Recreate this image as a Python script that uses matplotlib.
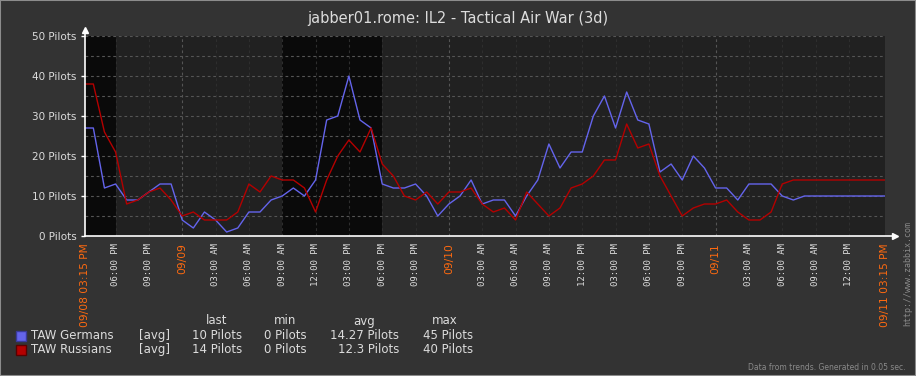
import datetime as dt
import matplotlib
matplotlib.use("Agg")
import matplotlib.pyplot as plt
from matplotlib.patches import Rectangle

W, H = 916, 376

title = "jabber01.rome: IL2 - Tactical Air War (3d)"
start = dt.datetime(2012, 9, 8, 15, 15)
span_hours = 72

# hourly trend values (first point at 16:00)
germans = [27, 12, 13, 9, 9, 11, 13, 13, 4, 2, 6, 4, 1, 2, 6, 6, 9, 10, 12, 10,
           14, 29, 30, 40, 29, 27, 13, 12, 12, 13, 10, 5, 8, 10, 14, 8, 9, 9, 5, 10,
           14, 23, 17, 21, 21, 30, 35, 27, 36, 29, 28, 16, 18, 14, 20, 17, 12, 12, 9, 13,
           13, 13, 10, 9, 10, 10, 10, 10, 10, 10, 10, 10]
russians = [38, 26, 21, 8, 9, 11, 12, 9, 5, 6, 4, 4, 4, 6, 13, 11, 15, 14, 14, 12,
            6, 14, 20, 24, 21, 27, 18, 15, 10, 9, 11, 8, 11, 11, 12, 8, 6, 7, 4, 11,
            8, 5, 7, 12, 13, 15, 19, 19, 28, 22, 23, 15, 10, 5, 7, 8, 8, 9, 6, 4,
            4, 6, 13, 14, 14, 14, 14, 14, 14, 14, 14, 14]

# dark shaded periods (start, end)
dark_periods = [(dt.datetime(2012, 9, 8, 15, 15), dt.datetime(2012, 9, 8, 18, 0)),
                (dt.datetime(2012, 9, 9, 9, 0), dt.datetime(2012, 9, 9, 18, 0))]

series_names = ["TAW Germans", "TAW Russians"]
series_colors = ["#6464ec", "#b40000"]
series_edges = ["#3a3a99", "#5a0000"]
stat_last = ["10 Pilots", "14 Pilots"]
stat_min = ["0 Pilots", "0 Pilots"]
stat_avg = ["14.27 Pilots", "12.3 Pilots"]
stat_max = ["45 Pilots", "40 Pilots"]

BG = "#333333"
PLOT_BG = "#212121"
DARK = "#0a0a0a"
TXT = "#dcdcdc"
ORANGE = "#ff6a10"


def hours(t):
  return (t - start).total_seconds() / 3600.0


def fx(px):
  return px / W


def fy(py):
  return 1 - py / H


fig = plt.figure(figsize=(W / 100, H / 100), dpi=100, facecolor=BG)
ax = fig.add_axes([fx(85), fy(236), 800 / W, 200 / H])
ax.set_facecolor(PLOT_BG)
ax.set_xlim(0, span_hours)
ax.set_ylim(0, 50)
for s in ax.spines.values():
  s.set_visible(False)

for a, b in dark_periods:
  ax.axvspan(hours(a), hours(b), color=DARK, lw=0, zorder=0)

# horizontal grid
for v in range(5, 51, 5):
  ax.axhline(v, color="#555555", lw=0.8, ls=(0, (2.5, 2.5)), zorder=1)

# vertical grid + tick labels every 3 hours
t = dt.datetime(2012, 9, 8, 18, 0)
end = start + dt.timedelta(hours=span_hours)
xt = ax.get_xaxis_transform()
while t <= end - dt.timedelta(hours=3):
  h = hours(t)
  if t.hour == 0:
    ax.axvline(h, color="#555555", lw=0.8, ls=(0, (2.5, 2.5)), zorder=1)
    ax.text(h, -7 / 200, t.strftime("%m/%d"), transform=xt, rotation=90,
            ha="center", va="top", color=ORANGE, fontsize=7.7)
  else:
    ax.axvline(h, color="#2e2e2e", lw=0.8, ls=(0, (2.5, 2.5)), zorder=1)
    ax.text(h, -7 / 200, t.strftime("%I:%M %p"), transform=xt, rotation=90,
            ha="center", va="top", color=TXT, fontsize=6.5, family="DejaVu Sans Mono")
  t += dt.timedelta(hours=3)
ax.axvline(span_hours, color="#2e2e2e", lw=0.8, ls=(0, (2.5, 2.5)), zorder=1)
for tt in (start, end):
  ax.text(hours(tt), -7 / 200, tt.strftime("%m/%d %I:%M %p"), transform=xt,
          rotation=90, ha="center", va="top", color=ORANGE, fontsize=7.7)

# data lines (hourly points, held flat to the edges)
xs = [0] + [0.75 + k for k in range(len(germans))] + [span_hours]
for vals, c in zip([germans, russians], series_colors):
  ys = [vals[0]] + vals + [vals[-1]]
  ax.plot(xs, ys, color=c, lw=1.0, zorder=3)

# axes with arrows
ax.plot([0, 1.012], [0, 0], transform=ax.transAxes, color="white", lw=1.2, clip_on=False, zorder=4)
ax.plot([1.012], [0], transform=ax.transAxes, marker=">", color="white", ms=5, clip_on=False, zorder=4)
ax.plot([0, 0], [0, 1.03], transform=ax.transAxes, color="white", lw=1.2, clip_on=False, zorder=4)
ax.plot([0], [1.03], transform=ax.transAxes, marker="^", color="white", ms=5, clip_on=False, zorder=4)

ax.set_yticks(range(0, 51, 10))
ax.set_yticklabels([f"{v} Pilots" for v in range(0, 51, 10)])
ax.tick_params(axis="y", colors="white", labelcolor=TXT, labelsize=7.5, length=3, width=1, pad=3)
ax.set_xticks([])

fig.text(0.5, fy(18), title, ha="center", va="center", color=TXT, fontsize=10.5)

# legend table
hdr_y = fy(321)
for name, cx in [("last", 217), ("min", 285), ("avg", 364), ("max", 445)]:
  fig.text(fx(cx), hdr_y, name, ha="center", va="center", color=TXT, fontsize=8.5)
for i, row_y in enumerate([335.5, 349.5]):
  y = fy(row_y)
  fig.patches.append(Rectangle((fx(16), fy(row_y + 5)), 10 / W, 10 / H, transform=fig.transFigure,
                               facecolor=series_colors[i], edgecolor=series_edges[i], lw=1))
  fig.text(fx(31), y, series_names[i], ha="left", va="center", color=TXT, fontsize=8.5)
  fig.text(fx(139), y, "[avg]", ha="left", va="center", color=TXT, fontsize=8.5)
  fig.text(fx(242), y, stat_last[i], ha="right", va="center", color=TXT, fontsize=8.5)
  fig.text(fx(307), y, stat_min[i], ha="right", va="center", color=TXT, fontsize=8.5)
  fig.text(fx(399), y, stat_avg[i], ha="right", va="center", color=TXT, fontsize=8.5)
  fig.text(fx(473), y, stat_max[i], ha="right", va="center", color=TXT, fontsize=8.5)

fig.text(fx(908), fy(274), "http://www.zabbix.com", rotation=90, ha="center", va="center",
         color="#8a8a8a", fontsize=6, family="DejaVu Sans Mono")
fig.text(fx(905), fy(368), "Data from trends. Generated in 0.05 sec.", ha="right", va="center",
         color="#8a8a8a", fontsize=5.5)

fig.patches.append(Rectangle((0, 0), 1, 1, transform=fig.transFigure, fill=False,
                             edgecolor="#8c8c8c", lw=1.5))

fig.savefig("out.png", dpi=100, facecolor=BG)
